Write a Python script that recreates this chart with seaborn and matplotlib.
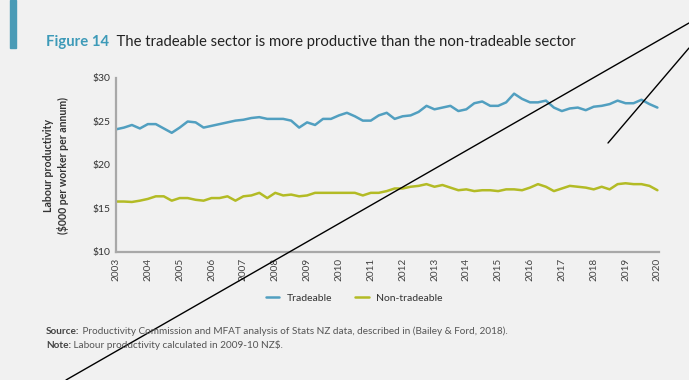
import numpy as np
import pandas as pd
import seaborn as sns
import matplotlib
matplotlib.use("Agg")
import matplotlib.pyplot as plt
from matplotlib.lines import Line2D

# ---- data (quarterly, 2003Q1 .. 2020Q1), $000 per worker per annum ----
start_year = 2003
years = list(range(2003, 2021))
yticks = [10, 15, 20, 25, 30]
ytick_labels = ["$10", "$15", "$20", "$25", "$30"]

tradeable = [
    24.1, 24.3, 24.6, 24.2, 24.7, 24.7, 24.2, 23.7, 24.3, 25.0,
    24.9, 24.3, 24.5, 24.7, 24.9, 25.1, 25.2, 25.4, 25.5, 25.3,
    25.3, 25.3, 25.1, 24.3, 24.9, 24.6, 25.3, 25.3, 25.7, 26.0,
    25.6, 25.1, 25.1, 25.7, 26.0, 25.3, 25.6, 25.7, 26.1, 26.8,
    26.4, 26.6, 26.8, 26.2, 26.4, 27.1, 27.3, 26.8, 26.8, 27.2,
    28.2, 27.6, 27.2, 27.2, 27.4, 26.6, 26.2, 26.5, 26.6, 26.3,
    26.7, 26.8, 27.0, 27.4, 27.1, 27.1, 27.5, 27.0, 26.6,
]
non_tradeable = [
    15.8, 15.8, 15.75, 15.9, 16.1, 16.4, 16.4, 15.9, 16.2, 16.2,
    16.0, 15.9, 16.2, 16.2, 16.4, 15.9, 16.4, 16.5, 16.8, 16.2,
    16.8, 16.5, 16.6, 16.4, 16.5, 16.8, 16.8, 16.8, 16.8, 16.8,
    16.8, 16.5, 16.8, 16.8, 17.0, 17.3, 17.3, 17.5, 17.6, 17.8,
    17.5, 17.7, 17.4, 17.1, 17.2, 17.0, 17.1, 17.1, 17.0, 17.2,
    17.2, 17.1, 17.4, 17.8, 17.5, 17.0, 17.3, 17.6, 17.5, 17.4,
    17.2, 17.5, 17.2, 17.8, 17.9, 17.8, 17.8, 17.6, 17.1,
]
series_names = ["Tradeable", "Non-tradeable"]

t = [start_year + i / 4 for i in range(len(tradeable))]
df = pd.DataFrame({
    "t": t * 2,
    "value": tradeable + non_tradeable,
    "series": [series_names[0]] * len(t) + [series_names[1]] * len(t),
})

# ---- style ----
bg = "#f1f1f1"
sns.set_theme(style="white")
plt.rcParams["font.family"] = ["Lato", "DejaVu Sans"]

W, H = 689, 380
fig = plt.figure(figsize=(W / 100, H / 100), dpi=100, facecolor=bg)
ax = fig.add_axes([116 / W, 1 - 252 / H, 543 / W, (252 - 78) / H])
ax.set_facecolor(bg)

palette = {"Tradeable": "#519fc0", "Non-tradeable": "#b3bb25"}
sns.lineplot(data=df, x="t", y="value", hue="series", palette=palette,
             linewidth=1.8, ax=ax, legend=False)

ax.set_xlim(2003, 2020.05)
ax.set_ylim(10, 30)
ax.set_xticks(years)
ax.set_xticklabels([str(y) for y in years], rotation=90, fontsize=7.2, color="#444444")
ax.set_yticks(yticks)
ax.set_yticklabels(ytick_labels, fontsize=7.5, color="#333333")
ax.tick_params(axis="both", length=0, pad=4)
ax.set_xlabel("")
ax.set_ylabel("")
for s in ["top", "right"]:
    ax.spines[s].set_visible(False)
for s in ["left", "bottom"]:
    ax.spines[s].set_color("#a8a8a8")
    ax.spines[s].set_linewidth(1.6)

# y label (two lines, bold)
fig.text(56 / W, 1 - 166 / H, "Labour productivity\n($000 per worker per annum)",
         rotation=90, ha="center", va="center", fontsize=7.6, fontweight="bold",
         color="#333333", linespacing=1.3)

# legend
handles = [Line2D([0], [0], color=palette[n], lw=1.8) for n in series_names]
leg = fig.legend(handles, series_names, loc="center", bbox_to_anchor=(354 / W, 1 - 298 / H),
                 ncol=2, frameon=False, fontsize=7.5, handlelength=1.3, columnspacing=2.2,
                 handletextpad=0.7)
for txt in leg.get_texts():
    txt.set_color("#333333")

# title and accent bar
fig.patches.append(plt.Rectangle((10 / W, 1 - 48 / H), 6 / W, 48 / H,
                                 transform=fig.transFigure, color="#4a9bb6", zorder=3))

renderer = fig.canvas.get_renderer()


def run_text(x_px, y_px, parts):
    """Place consecutive text runs on one line, each after the previous."""
    x = x_px
    for s, kw in parts:
        tx = fig.text(x / W, 1 - y_px / H, s, va="center", ha="left", **kw)
        bb = tx.get_window_extent(renderer=renderer)
        x = bb.x1
    return x


title_fs = 10.7
run_text(46, 42, [
    ("Figure 14", dict(fontsize=title_fs, fontweight="bold", color="#3d9ab8")),
    ("  The tradeable sector is more productive than the non-tradeable sector",
     dict(fontsize=title_fs, color="#222222")),
])

fs = 7.2
run_text(46, 331, [
    ("Source:", dict(fontsize=fs, fontweight="bold", color="#444444")),
    (" Productivity Commission and MFAT analysis of Stats NZ data, described in (Bailey & Ford, 2018).",
     dict(fontsize=fs, color="#555555")),
])
run_text(46, 345, [
    ("Note:", dict(fontsize=fs, fontweight="bold", color="#444444")),
    (" Labour productivity calculated in 2009-10 NZ$.", dict(fontsize=fs, color="#555555")),
])

# overlaid black strokes present on the reference image
fig.add_artist(Line2D([66 / W, 1.0], [1 - 380 / H, 1 - 23 / H],
                      transform=fig.transFigure, color="black", lw=1.0))
fig.add_artist(Line2D([608 / W, 1.0], [1 - 143 / H, 1 - 48 / H],
                      transform=fig.transFigure, color="black", lw=1.0))

fig.savefig("out.png", dpi=100, facecolor=bg)
